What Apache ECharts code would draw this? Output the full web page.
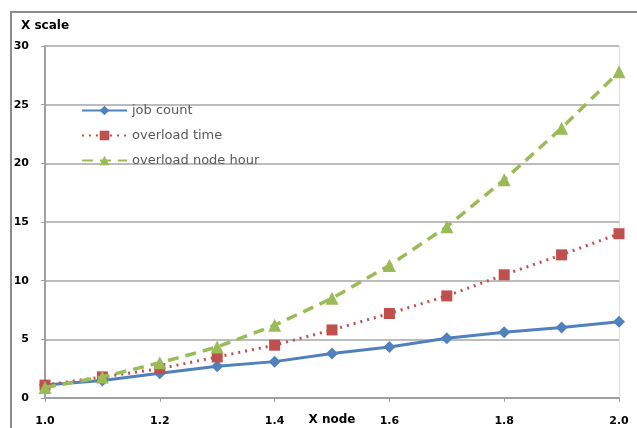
<!DOCTYPE html>
<html>
<head>
<meta charset="utf-8">
<script src="https://cdn.jsdelivr.net/npm/echarts@6/dist/echarts.min.js"></script>
<style>
html,body{margin:0;padding:0;background:#fff;}
#chart{width:637px;height:428px;}
</style>
</head>
<body>
<div id="chart"></div>
<script>
const xValues = [1.0, 1.1, 1.2, 1.3, 1.4, 1.5, 1.6, 1.7, 1.8, 1.9, 2.0];
const jobCount = [1.1, 1.5, 2.1, 2.7, 3.1, 3.8, 4.35, 5.1, 5.6, 6.0, 6.5];
const overloadTime = [1.1, 1.8, 2.5, 3.5, 4.5, 5.8, 7.2, 8.7, 10.5, 12.2, 14.0];
const overloadNodeHour = [0.9, 1.8, 3.0, 4.35, 6.2, 8.5, 11.3, 14.6, 18.6, 23.0, 27.8];
const seriesNames = ['job count', 'overload time', 'overload node hour'];
const xAxisName = 'X node';
const yAxisName = 'X scale';

function pairs(vals){ return xValues.map((x,i)=>[x, vals[i]]); }

const chart = echarts.init(document.getElementById('chart'), null, {renderer:'canvas'});
const labelFont = {color:'#000', fontFamily:'DejaVu Sans, sans-serif', fontWeight:'bold', fontSize:11};
chart.setOption({
  animation:false,
  backgroundColor:'#fff',
  graphic:[{type:'rect', shape:{x:11, y:12, width:700, height:500}, style:{fill:'none', stroke:'#8c8c8c', lineWidth:2}, silent:true, z:-1}],
  grid:{left:45, right:18, top:46, bottom:30, containLabel:false, outerBoundsMode:'none'},
  legend:{
    orient:'vertical', left:76, top:99, itemWidth:45, itemHeight:12, itemGap:12,
    textStyle:{color:'#595959', fontSize:13, fontFamily:'DejaVu Sans, sans-serif'},
    data:seriesNames
  },
  xAxis:{
    type:'value', min:1, max:2, interval:0.2,
    name:xAxisName, nameLocation:'middle', nameGap:16, nameMoveOverlap:false,
    nameTextStyle:Object.assign({}, labelFont, {fontSize:12}),
    axisLine:{lineStyle:{color:'#a0a0a0', width:2}},
    axisTick:{show:true, length:4, lineStyle:{color:'#a0a0a0'}},
    axisLabel:Object.assign({}, labelFont, {margin:18, formatter:v=>v.toFixed(1)}),
    splitLine:{show:false}
  },
  yAxis:[{
    type:'value', min:0, max:30, interval:5,
    name:yAxisName, nameLocation:'end', nameGap:14, nameMoveOverlap:false,
    nameTextStyle:Object.assign({}, labelFont, {fontSize:12, align:'center'}),
    axisLine:{show:true, lineStyle:{color:'#a0a0a0', width:2}},
    axisTick:{show:true, length:4, lineStyle:{color:'#a0a0a0'}},
    axisLabel:Object.assign({}, labelFont, {margin:16}),
    splitLine:{lineStyle:{color:'#a6a6a6', width:1.5}}
  },{
    type:'value', min:0, max:30, interval:5, position:'right',
    axisLine:{show:true, lineStyle:{color:'#e0e0e0', width:1}},
    axisTick:{show:false}, axisLabel:{show:false}, splitLine:{show:false}
  }],
  series:[
    {name:seriesNames[0], type:'line', data:pairs(jobCount), symbol:'diamond', symbolSize:12,
     itemStyle:{color:'#4F81BD'}, lineStyle:{color:'#4F81BD', width:3}, z:3},
    {name:seriesNames[1], type:'line', data:pairs(overloadTime), symbol:'rect', symbolSize:11,
     itemStyle:{color:'#C0504D'}, lineStyle:{color:'#C0504D', width:3, type:[2,5]}, z:4},
    {name:seriesNames[2], type:'line', data:pairs(overloadNodeHour), symbol:'triangle', symbolSize:13,
     itemStyle:{color:'#9BBB59'}, lineStyle:{color:'#9BBB59', width:3.5, type:[11,7]}, z:5}
  ]
});
</script>
</body>
</html>
